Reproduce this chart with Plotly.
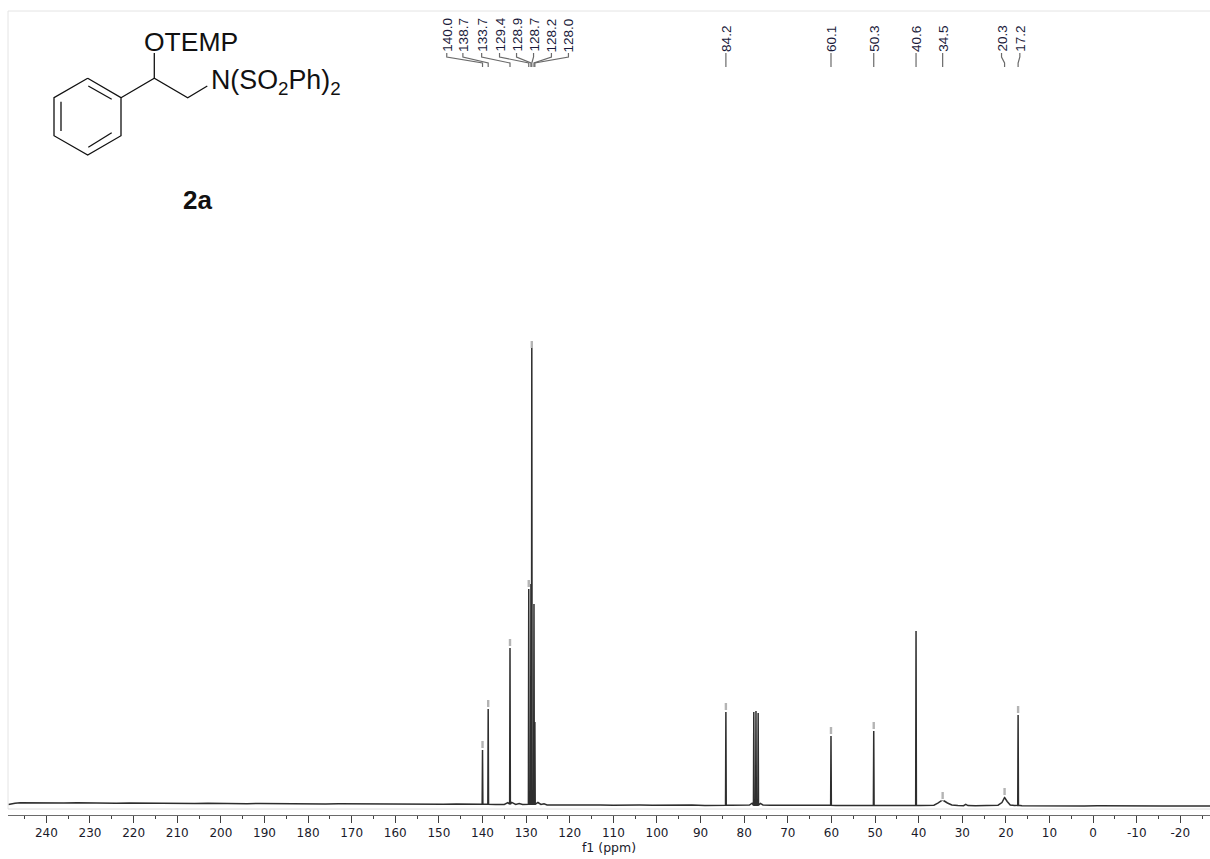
import plotly.graph_objects as go

# ---- data ------------------------------------------------------------------
tick_vals = [240, 230, 220, 210, 200, 190, 180, 170, 160, 150, 140, 130, 120, 110, 100,
             90, 80, 70, 60, 50, 40, 30, 20, 10, 0, -10, -20]
tick_text = ["240", "230", "220", "210", "200", "190", "180", "170", "160", "150", "140", "130",
             "120", "110", "100", "90", "80", "70", "60", "50", "40", "30", "20", "10", "0", "-10", "-20"]

baseline_ppm = [248.7, 248.0, 247.2, 246.0, 244.5, 242.0, 239.0, 236.0, 233.0, 230.0, 227.0, 224.0, 221.0,
                218.0, 215.0, 212.0, 209.0, 206.0, 203.0, 200.0, 197.0, 194.0, 191.0, 188.0, 185.0, 182.0,
                179.0, 176.0, 173.0, 170.0, 167.0, 164.0, 161.0, 158.0, 155.0, 152.0, 149.0, 146.0, 143.0,
                141.5, 137.0, 135.0, 134.2, 133.3, 132.4, 131.6, 130.8, 127.3, 126.6, 125.9, 125.2, 122.0,
                119.0, 116.0, 113.0, 110.0, 107.0, 104.0, 101.0, 98.0, 95.0, 92.0, 89.0, 86.0, 83.0, 81.0,
                78.8, 78.2, 76.3, 75.7, 74.0, 71.0, 68.0, 65.0, 62.0, 59.0, 56.0, 53.0, 49.0, 46.0, 43.0,
                41.5, 39.5, 38.0, 36.5, 35.6, 34.5, 33.4, 32.4, 31.0, 29.7, 29.2, 28.7, 27.0, 25.0, 23.0,
                21.8, 20.9, 20.3, 19.7, 19.0, 18.0, 16.3, 14.0, 11.0, 8.0, 5.0, 2.0, -1.0, -4.0, -7.0,
                -10.0, -13.0, -16.0, -19.0, -22.0, -25.0, -26.9]
baseline_h = [-0.6, 0.2, 0.8, 1.2, 1.1, 1.0, 1.4, 1.0, 1.2, 0.9, 1.1, 0.8, 1.0, 0.8, 0.9, 0.6, 0.8, 0.5, 0.7, 0.4,
              0.6, 0.3, 0.5, 0.3, 0.4, 0.1, 0.3, 0.0, 0.2, 0.1, -0.2, 0.1, -0.1, 0.0, -0.3, -0.1, -0.3, -0.1,
              -0.4, -0.2, -0.5, -0.4, 1.4, 1.6, -0.4, 0.4, -0.5, 1.5, -0.5, 0.3, -0.9, -1.0, -0.8, -1.1, -0.9,
              -1.2, -0.9, -1.1, -1.3, -1.0, -1.3, -1.1, -1.4, -1.2, -1.3, -1.2, -1.0, 0.8, 0.6, -1.0, -1.3,
              -1.4, -1.2, -1.5, -1.4, -1.5, -1.3, -1.6, -1.4, -1.6, -1.5, -1.6, -1.5, -1.6, -1.2, 0.8, 4.0,
              1.0, -1.0, -1.6, -1.7, -0.4, -1.6, -1.7, -1.5, -1.6, -1.2, 1.5, 6.5, 2.5, -1.0, -1.6, -1.7, -1.8,
              -1.6, -1.8, -1.7, -1.9, -1.7, -1.9, -1.8, -2.0, -1.8, -2.0, -1.9, -2.1, -1.9, -2.0]

# peaks drawn sharp: position and top of the dark line, in the picture's height units
peak_ppm = [140.0, 138.7, 133.7, 129.4, 128.9, 128.7, 128.2, 128.0, 84.2, 77.8, 77.3, 76.8, 60.1, 50.3, 40.6, 17.2]
peak_top = [54.0, 95.0, 156.0, 215.0, 220.0, 463.0, 200.0, 82.0, 92.0, 92.0, 93.0, 91.0, 68.0, 73.0, 173.0, 89.0]

# labelled shifts, the height of each pick tick and where its label sits on the ppm scale
pick_text = ["140.0", "138.7", "133.7", "129.4", "128.9", "128.7", "128.2", "128.0",
             "84.2", "60.1", "50.3", "40.6", "34.5", "20.3", "17.2"]
pick_ppm = [140.0, 138.7, 133.7, 129.4, 128.9, 128.7, 128.2, 128.0, 84.2, 60.1, 50.3, 40.6, 34.5, 20.3, 17.2]
pick_label_ppm = [148.2, 144.5, 140.2, 136.1, 132.2, 128.3, 124.2, 120.3, 84.2, 60.1, 50.3, 40.6, 34.5, 21.0, 16.8]
tip_top = [63.0, 104.0, 165.0, 224.0, None, 463.0, None, None, 101.0, 77.0, 82.0, None, 12.0, 16.0, 98.0]

# structure drawn in the upper left, page pixels
ring_x = [87.7, 121, 121, 87.7, 54, 54, 87.7]
ring_y = [78.3, 97.7, 135.7, 155, 135.7, 97.7, 78.3]
chain_x = [121, 154.3, 187.7, 207.3]
chain_y = [97.7, 78.3, 97.7, 86]
o_bond_x = [154.3, 154.3]
o_bond_y = [78.3, 53]
inner_x = [[88.3, 111.7], [61, 61], [88.3, 111.7]]
inner_y = [[86, 99.3], [101.7, 131], [147.3, 132.7]]

# ---- layout constants -------------------------------------------------------
W, H = 1210, 859
L, T, B = 8, 11, 815
XMIN, XMAX = 248.8, -26.8

all_pts = [(p, h) for p, h in zip(baseline_ppm, baseline_h)]
for p, h in zip(peak_ppm, peak_top):
    all_pts.append((p, h))
    foot = -0.3 if p > 100 else -1.3
    all_pts.append((p + 0.08, foot))
    all_pts.append((p - 0.08, foot))
all_pts.sort(key=lambda t: -t[0])

fig = go.Figure()
fig.add_trace(go.Scatter(x=[a for a, _ in all_pts], y=[b for _, b in all_pts], mode="lines",
                         line=dict(color="#2e2e2e", width=1.5), hoverinfo="skip", showlegend=False))

# grey pick-tip marks above the peaks with a small white gap
tx, ty, gx, gy = [], [], [], []
for p, t in zip(pick_ppm, tip_top):
    if t is None:
        continue
    tx += [p, p, None]
    ty += [t, t - 7, None]
    if 127 < p < 130:
        continue
    gx += [p, p, None]
    gy += [t - 7, t - 8.5, None]
fig.add_trace(go.Scatter(x=gx, y=gy, mode="lines", line=dict(color="white", width=3),
                         hoverinfo="skip", showlegend=False))
fig.add_trace(go.Scatter(x=tx, y=ty, mode="lines", line=dict(color="#b4b4b4", width=2.4),
                         hoverinfo="skip", showlegend=False))

# connectors between labels and pick positions
LAB_Y0, LAB_Y1, LAB_Y2, LAB_Y3 = 751, 747, 741, 737
cx, cy = [], []
for p, lp in zip(pick_ppm, pick_label_ppm):
    cx += [lp, lp, p, p, None]
    cy += [LAB_Y0, LAB_Y1, LAB_Y2, LAB_Y3, None]
fig.add_trace(go.Scatter(x=cx, y=cy, mode="lines", line=dict(color="#6a6a6a", width=1.2),
                         hoverinfo="skip", showlegend=False))

annotations = []
for txt, lp in zip(pick_text, pick_label_ppm):
    annotations.append(dict(x=lp, y=750, xref="x", yref="y", text=txt, textangle=-90, showarrow=False,
                            xanchor="center", yanchor="bottom",
                            font=dict(family="Liberation Sans", size=13.5, color="#1a1a3a")))

def px(v):
    return (v - L) / (W - L)

def py(v):
    return (B - v) / (B - T)

shapes = [
    dict(type="line", xref="paper", yref="paper", x0=0, x1=1, y0=1, y1=1, line=dict(color="#e4e4e4", width=1)),
    dict(type="line", xref="paper", yref="paper", x0=0, x1=0, y0=py(809), y1=1, line=dict(color="#e4e4e4", width=1)),
    dict(type="line", xref="paper", yref="paper", x0=0, x1=1, y0=py(809), y1=py(809), line=dict(color="#dcdcdc", width=1)),
]

def poly(xs, ys, color="#111111", width=1.3):
    shapes.append(dict(type="path", xref="paper", yref="paper",
                       path="M " + " L ".join(f"{px(a):.5f},{py(b):.5f}" for a, b in zip(xs, ys)),
                       line=dict(color=color, width=width)))

poly(ring_x, ring_y)
poly(chain_x, chain_y)
poly(o_bond_x, o_bond_y)
for a, b in zip(inner_x, inner_y):
    poly(a, b)

def label(x, y, text, size, anchor="left", bold=False):
    annotations.append(dict(x=px(x), y=py(y), xref="paper", yref="paper", text=f"<b>{text}</b>" if bold else text,
                            showarrow=False, xanchor=anchor, yanchor="middle", borderpad=0, borderwidth=0,
                            font=dict(family="Liberation Sans", size=size, color="#111111")))

label(144, 42, "OTEMP", 26.5)
label(211, 82, "N(SO<sub>2</sub>Ph)<sub>2</sub>", 26.8)
label(197.5, 200, "2a", 26, anchor="center", bold=True)

fig.update_layout(
    width=W, height=H, autosize=False,
    margin=dict(l=L, r=0, t=T, b=H - B, pad=0),
    paper_bgcolor="white", plot_bgcolor="white", showlegend=False,
    shapes=shapes, annotations=annotations,
    xaxis=dict(range=[XMIN, XMAX], tickmode="array", tickvals=tick_vals, ticktext=tick_text,
               ticks="outside", ticklen=7, tickwidth=1, tickcolor="#404040",
               showline=True, linecolor="#6a6a6a", linewidth=1, showgrid=False, zeroline=False,
               minor=dict(dtick=5, ticks="outside", ticklen=3, tickcolor="#404040", showgrid=False),
               tickfont=dict(family="DejaVu Sans", size=12, color="#1a1a2a"),
               title=dict(text="f1 (ppm)", standoff=0, font=dict(family="DejaVu Sans", size=12.5, color="#1a1a2a"))),
    yaxis=dict(range=[-11, 793], visible=False, showgrid=False, zeroline=False),
)

fig.write_html("out.html", config=dict(displayModeBar=False),
               post_script="document.body.style.margin='0';document.documentElement.style.overflow='hidden';")
